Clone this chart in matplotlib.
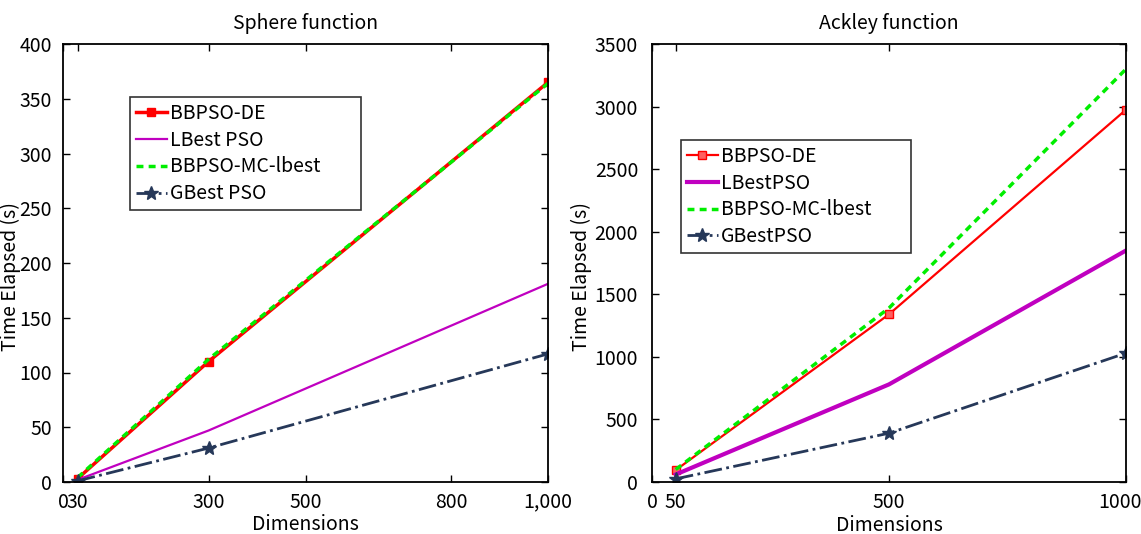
import matplotlib
matplotlib.use("Agg")
import matplotlib.pyplot as plt
from matplotlib import font_manager as fm
from matplotlib.transforms import ScaledTranslation

names = {f.name for f in fm.fontManager.ttflist}
main_font = 'Liberation Sans Narrow' if 'Liberation Sans Narrow' in names else 'Noto Sans CJK JP'
plt.rcParams['font.family'] = [main_font, 'DejaVu Sans']

# ---- Sphere function data ----
sphere_dims = [30, 300, 1000]
sphere_bbpso_de = [3, 110, 365]
sphere_lbest = [2, 47, 181]
sphere_mc_lbest = [4, 112, 364]
sphere_gbest = [1, 31, 117]
sphere_xticks = [0, 30, 300, 500, 800, 1000]
sphere_xticklabels = ['0', '30', '300', '500', '800', '1,000']
sphere_yticks = [0, 50, 100, 150, 200, 250, 300, 350, 400]

# ---- Ackley function data ----
ackley_dims = [50, 500, 1000]
ackley_bbpso_de = [95, 1340, 2975]
ackley_lbest = [60, 780, 1850]
ackley_mc_lbest = [100, 1390, 3300]
ackley_gbest = [25, 390, 1030]
ackley_xticks = [0, 50, 500, 1000]
ackley_xticklabels = ['0', '50', '500', '1000']
ackley_yticks = [0, 500, 1000, 1500, 2000, 2500, 3000, 3500]

navy = '#263859'
magenta = '#c000c0'
green = '#00ee00'

fig = plt.figure(figsize=(11.41, 5.34), dpi=100)
W, H = 1141, 534
ax1 = fig.add_axes([63 / W, 1 - 482 / H, (548 - 63) / W, (482 - 44) / H])
ax2 = fig.add_axes([652 / W, 1 - 482 / H, (1126 - 652) / W, (482 - 44) / H])

tick_fs = 14
lab_fs = 14
leg_fs = 14

# Sphere
ax1.plot(sphere_dims, sphere_bbpso_de, color='red', lw=2.5, marker='s', ms=5.5,
         mfc='red', mec='red', label='BBPSO-DE')
ax1.plot(sphere_dims, sphere_lbest, color=magenta, lw=1.6, label='LBest PSO')
ax1.plot(sphere_dims, sphere_mc_lbest, color=green, lw=2.5, ls=(0, (2, 1.5)),
         label='BBPSO-MC-lbest')
ax1.plot(sphere_dims, sphere_gbest, color=navy, lw=2.0, ls='-.', marker='*', ms=10,
         label='GBest PSO')
ax1.set_xlim(0, 1000)
ax1.set_ylim(0, 400)
ax1.set_xticks(sphere_xticks)
ax1.set_xticklabels(sphere_xticklabels)
ax1.set_yticks(sphere_yticks)
ax1.set_title('Sphere function', fontsize=lab_fs, pad=11)
ax1.set_xlabel('Dimensions', fontsize=lab_fs)
ax1.xaxis.set_label_coords(0.5, -0.072)
ax1.set_ylabel('Time Elapsed (s)', fontsize=lab_fs)
ax1.yaxis.set_label_coords(-0.086, 0.47)
leg1 = ax1.legend(loc='upper left', bbox_to_anchor=(0.138, 0.879, 0.476, 0.0),
                  mode='expand', fontsize=leg_fs,
                  frameon=True, fancybox=False, edgecolor='black', handlelength=1.6,
                  handletextpad=0.15, borderpad=0.3, labelspacing=0.3,
                  borderaxespad=0)
leg1.get_frame().set_linewidth(1.2)

# Ackley
ax2.plot(ackley_dims, ackley_bbpso_de, color='red', lw=1.6, marker='s', ms=5.5,
         mfc='#ff6060', mec='red', label='BBPSO-DE')
ax2.plot(ackley_dims, ackley_lbest, color=magenta, lw=3.0, label='LBestPSO')
ax2.plot(ackley_dims, ackley_mc_lbest, color=green, lw=2.5, ls=(0, (2, 1.5)),
         label='BBPSO-MC-lbest')
ax2.plot(ackley_dims, ackley_gbest, color=navy, lw=2.0, ls='-.', marker='*', ms=10,
         label='GBestPSO')
ax2.set_xlim(0, 1000)
ax2.set_ylim(0, 3500)
ax2.set_xticks(ackley_xticks)
ax2.set_xticklabels(ackley_xticklabels)
ax2.set_yticks(ackley_yticks)
ax2.set_title('Ackley function', fontsize=lab_fs, pad=11)
ax2.set_xlabel('Dimensions', fontsize=lab_fs)
ax2.xaxis.set_label_coords(0.5, -0.075)
ax2.set_ylabel('Time Elapsed (s)', fontsize=lab_fs)
ax2.yaxis.set_label_coords(-0.127, 0.47)
leg2 = ax2.legend(loc='upper left', bbox_to_anchor=(0.061, 0.781, 0.485, 0.0),
                  mode='expand', fontsize=leg_fs,
                  frameon=True, fancybox=False, edgecolor='black', handlelength=1.6,
                  handletextpad=0.15, borderpad=0.3, labelspacing=0.3,
                  borderaxespad=0)
leg2.get_frame().set_linewidth(1.2)

for ax, ypad in ((ax1, 8), (ax2, 10)):
    ax.tick_params(axis='both', direction='in', top=True, right=True,
                   labelsize=tick_fs, length=5, width=1)
    ax.tick_params(axis='y', pad=ypad)
    ax.tick_params(axis='x', pad=7)
    for s in ax.spines.values():
        s.set_linewidth(1.3)

# nudge the last x tick label of the right panel so it stays inside the figure
last = ax2.get_xticklabels()[-1]
last.set_transform(last.get_transform() + ScaledTranslation(-6 / 100, 0, fig.dpi_scale_trans))

fig.savefig('out.png', dpi=100)
